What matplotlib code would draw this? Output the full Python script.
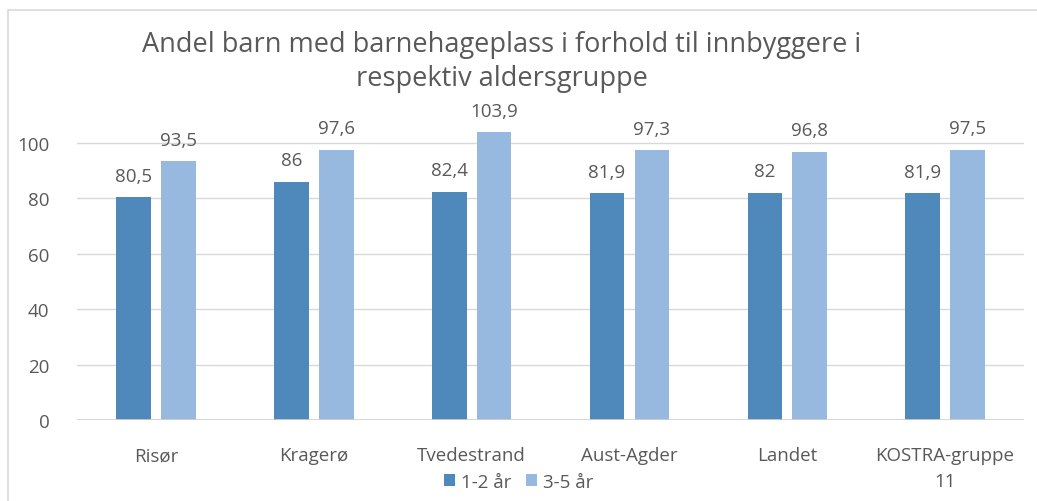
import matplotlib.pyplot as plt
import numpy as np
from matplotlib.patches import Rectangle

categories = ['Risør', 'Kragerø', 'Tvedestrand', 'Aust-Agder', 'Landet', 'KOSTRA-gruppe\n11']
small_kids = [80.5, 86, 82.4, 81.9, 82, 81.9]
big_kids = [93.5, 97.6, 103.9, 97.3, 96.8, 97.5]
small_labels = ['80,5', '86', '82,4', '81,9', '82', '81,9']
big_labels = ['93,5', '97,6', '103,9', '97,3', '96,8', '97,5']

grey = '#595959'
plt.rcParams['font.family'] = ['Open Sans', 'DejaVu Sans']

fig = plt.figure(figsize=(10.37, 5.02), dpi=100)
ax = fig.add_axes([0.0743, 0.1614, 0.9132, 0.6621])

x = np.arange(len(categories))
w = 0.22
off = 0.142
b1 = ax.bar(x - off, small_kids, w, color='#4F88BB', label='1-2 år', zorder=3)
b2 = ax.bar(x + off, big_kids, w, color='#97B9E0', label='3-5 år', zorder=3)

for bars, labs in ((b1, small_labels), (b2, big_labels)):
    for r, t in zip(bars, labs):
        ax.text(r.get_x() + r.get_width() / 2, r.get_height() + 4.5, t,
                ha='center', va='bottom', fontsize=13.5, color=grey)

ax.set_xlim(-0.5, len(categories) - 0.5)
ax.set_ylim(0, 120)
ax.set_yticks(range(0, 101, 20))
for v in range(20, 101, 20):
    ax.axhline(v, color='#d9d9d9', lw=1, zorder=1)
ax.axhline(0, color='#d0d0d0', lw=1.2, zorder=4)
ax.set_xticks(x)
ax.set_xticklabels(categories, fontsize=13.5, color=grey, linespacing=1.55)
ax.tick_params(axis='y', labelsize=13.5, labelcolor=grey, length=0, pad=20)
ax.tick_params(axis='x', length=0, pad=19)
for s in ax.spines.values():
    s.set_visible(False)

fig.text(0.484, 0.91, 'Andel barn med barnehageplass i forhold til innbyggere i',
         ha='center', va='center', fontsize=19.5, color=grey)
fig.text(0.484, 0.843, 'respektiv aldersgruppe',
         ha='center', va='center', fontsize=19.5, color=grey)

fig.legend(handles=[b1, b2], loc='center', bbox_to_anchor=(0.5, 0.038), ncol=2,
           frameon=False, fontsize=13.5, labelcolor=grey, handlelength=0.6,
           handleheight=0.6, handletextpad=0.3, columnspacing=0.8)

fig.patches.append(Rectangle((8 / 1037, -0.1), 1.2, 1.1 - 11 / 502, transform=fig.transFigure,
                             fill=False, edgecolor='#d9d9d9', lw=1.2))

fig.savefig('out.png', dpi=100)
